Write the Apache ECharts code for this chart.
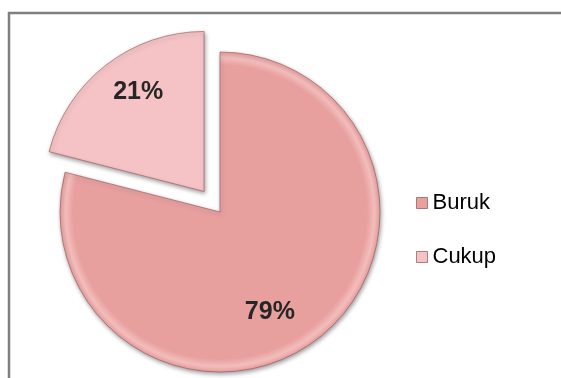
<!DOCTYPE html>
<html>
<head>
<meta charset="utf-8">
<script src="https://cdn.jsdelivr.net/npm/echarts@6/dist/echarts.min.js"></script>
<style>
  html, body { margin: 0; padding: 0; background: #ffffff; overflow: hidden; }
  #chart { width: 561px; height: 378px; }
</style>
</head>
<body>
<div id="chart"></div>
<script>
// Category names and their shares (percent)
const categories = ['Buruk', 'Cukup'];
const values = [79, 21];
const sliceColors = ['#E8A09F', '#F5C3C5'];
const rimColors = ['#F2BDBC', '#FAD9DA'];
const explodedCategory = 'Cukup';

const pieCenter = [220, 212];
const pieRadius = 160;
const explodeOffset = 26;

const chart = echarts.init(document.getElementById('chart'), null, { renderer: 'canvas' });

// Per-slice nudges so each percentage sits well inside its slice
const labelNudge = {
  Buruk: { dx: -1, dy: 35 },
  Cukup: { dx: -15, dy: -34 }
};

// Soft bevel: a lighter band just inside the rim of each slice,
// centred on the slice's own (possibly exploded) apex
const total = values.reduce((a, b) => a + b, 0);
let running = 0;
const pieData = categories.map((name, i) => {
  const mid = (running + values[i] / 2) / total * Math.PI * 2;
  running += values[i];
  const exploded = name === explodedCategory;
  const cx = pieCenter[0] + (exploded ? Math.sin(mid) * explodeOffset : 0);
  const cy = pieCenter[1] - (exploded ? Math.cos(mid) * explodeOffset : 0);
  return {
    name: name,
    value: values[i],
    selected: exploded,
    itemStyle: {
      color: {
        type: 'radial', x: cx, y: cy, r: pieRadius, global: true,
        colorStops: [
          { offset: 0, color: sliceColors[i] },
          { offset: 0.92, color: sliceColors[i] },
          { offset: 0.965, color: rimColors[i] },
          { offset: 1, color: sliceColors[i] }
        ]
      }
    }
  };
});

chart.setOption({
  backgroundColor: '#ffffff',
  animation: false,
  color: sliceColors,
  graphic: [{
    type: 'polyline',
    shape: { points: [[9, 420], [9, 13], [720, 13]] },
    style: { fill: 'none', stroke: '#7f7f7f', lineWidth: 2.5 },
    z: -1,
    silent: true
  }],
  legend: {
    orient: 'vertical',
    left: 411,
    top: 187,
    itemWidth: 11,
    itemHeight: 11,
    itemGap: 32,
    icon: 'rect',
    selectedMode: false,
    itemStyle: { borderColor: 'rgba(120,60,60,0.6)', borderWidth: 1 },
    textStyle: {
      fontFamily: 'Liberation Sans, Arial, sans-serif',
      fontSize: 22,
      color: '#000000',
      lineHeight: 22
    },
    data: categories.map((name, i) => ({ name: name, itemStyle: { color: sliceColors[i] } }))
  },
  series: [{
    type: 'pie',
    center: pieCenter,
    radius: [0, pieRadius],
    startAngle: 90,
    clockwise: true,
    selectedMode: 'single',
    selectedOffset: explodeOffset,
    avoidLabelOverlap: false,
    emphasis: { disabled: true },
    itemStyle: {
      borderColor: 'rgba(150,80,85,0.6)',
      borderWidth: 1,
      shadowBlur: 4,
      shadowOffsetX: 1,
      shadowOffsetY: 2,
      shadowColor: 'rgba(0,0,0,0.38)'
    },
    label: {
      show: true,
      position: 'inside',
      formatter: '{d}%',
      fontFamily: 'Liberation Sans, Arial, sans-serif',
      fontWeight: 'bold',
      fontSize: 25,
      color: '#262626'
    },
    labelLine: { show: false },
    labelLayout: function (params) {
      const nudge = labelNudge[categories[params.dataIndex]];
      return { dx: nudge.dx, dy: nudge.dy };
    },
    data: pieData
  }]
});
</script>
</body>
</html>
